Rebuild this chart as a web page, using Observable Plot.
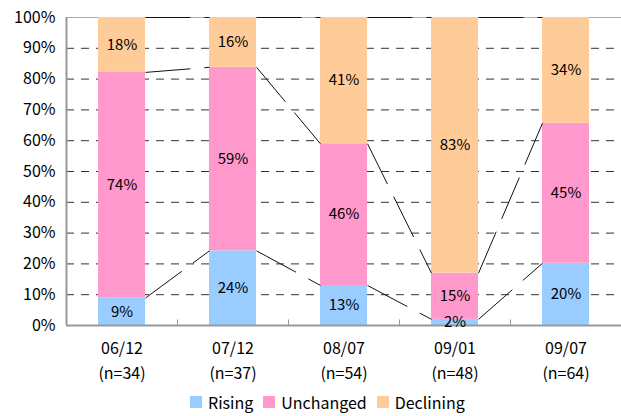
<!DOCTYPE html>
<html>
<head>
<meta charset="utf-8">
<script src="https://cdn.jsdelivr.net/npm/d3@7"></script>
<script src="https://cdn.jsdelivr.net/npm/@observablehq/plot@0.6"></script>
<style>
  html, body { margin: 0; padding: 0; background: #fff; }
  body { width: 621px; height: 416px; overflow: hidden; font-family: "Noto Sans CJK JP", "DejaVu Sans", sans-serif; }
  #chart svg { display: block; }
  #legend { display: flex; align-items: center; height: 18px; line-height: 18px; padding-left: 190px; font-size: 16px; color: #000; }
  #legend .sw { width: 12px; height: 12px; display: inline-block; margin-right: 6px; }
  #legend .item { display: flex; align-items: center; margin-right: 10px; }
</style>
</head>
<body>
<div id="chart"></div>
<div id="legend"></div>
<script>
const categories = ["06/12", "07/12", "08/07", "09/01", "09/07"];
const sampleSizes = [34, 37, 54, 48, 64];
const seriesNames = ["Rising", "Unchanged", "Declining"];
const rising = [9, 24, 13, 2, 20];
const unchanged = [74, 59, 46, 15, 45];
const declining = [18, 16, 41, 83, 34];
const colors = ["#99CCFF", "#FF99CC", "#FFCC99"];
const yTicks = [0, 10, 20, 30, 40, 50, 60, 70, 80, 90, 100];

const seriesValues = [rising, unchanged, declining];
const halfBar = 0.212;

// build stacked, normalized table
const rows = [];
categories.forEach((c, i) => {
  const total = seriesValues.reduce((s, arr) => s + arr[i], 0);
  let cum = 0;
  seriesValues.forEach((arr, s) => {
    const v = arr[i];
    rows.push({i, cat: c, series: seriesNames[s], value: v,
      y1: cum / total * 100, y2: (cum + v) / total * 100});
    cum += v;
  });
});

// series lines between consecutive bars
const links = [];
seriesNames.forEach(name => {
  const r = rows.filter(d => d.series === name);
  for (let k = 0; k < r.length - 1; k++) {
    links.push({x1: r[k].i + halfBar, x2: r[k + 1].i - halfBar, y1: r[k].y2, y2: r[k + 1].y2});
  }
});

const boundaries = categories.slice(1).map((_, i) => i + 0.5);

const font = '"Noto Sans CJK JP", "DejaVu Sans", sans-serif';

const plot = Plot.plot({
  width: 621,
  height: 393,
  marginLeft: 66,
  marginRight: 0,
  marginTop: 17,
  marginBottom: 68,
  style: {fontFamily: font, fontSize: "16px", color: "#000", background: "#fff"},
  x: {domain: [-0.5, categories.length - 0.5], axis: null},
  y: {domain: [0, 100], ticks: yTicks, tickFormat: d => d + "%", tickSize: 0, tickPadding: 11, label: null},
  color: {domain: seriesNames, range: colors},
  marks: [
    Plot.ruleY(yTicks.slice(1, -1), {stroke: "#333", strokeWidth: 1, strokeDasharray: "8,7"}),
    Plot.ruleY([100], {stroke: "#aaa", strokeWidth: 1}),
    Plot.rectY(rows, {x1: d => d.i - halfBar, x2: d => d.i + halfBar, y1: "y1", y2: "y2", fill: "series"}),
    Plot.link(links, {x1: "x1", x2: "x2", y1: "y1", y2: "y2", stroke: "#111", strokeWidth: 1, strokeDasharray: "45,14"}),
    Plot.ruleY([0], {stroke: "#999", strokeWidth: 2}),
    Plot.ruleX([-0.5], {stroke: "#999", strokeWidth: 2}),
    Plot.ruleX(boundaries, {y1: 0, y2: 1.8, stroke: "#999", strokeWidth: 1}),
    Plot.text(rows, {x: "i", y: d => (d.y1 + d.y2) / 2, text: d => d.value + "%", fontSize: 15, fill: "#000"}),
    Plot.text(categories, {x: (d, i) => i, frameAnchor: "bottom", dy: 28, text: d => d, fontSize: 16, fill: "#000"}),
    Plot.text(sampleSizes, {x: (d, i) => i, frameAnchor: "bottom", dy: 53, text: d => "(n=" + d + ")", fontSize: 16, fill: "#000"})
  ]
});
document.getElementById("chart").appendChild(plot);

const legend = document.getElementById("legend");
seriesNames.forEach((name, s) => {
  const item = document.createElement("span");
  item.className = "item";
  const sw = document.createElement("span");
  sw.className = "sw";
  sw.style.background = colors[s];
  item.appendChild(sw);
  item.appendChild(document.createTextNode(name));
  legend.appendChild(item);
});
</script>
</body>
</html>
